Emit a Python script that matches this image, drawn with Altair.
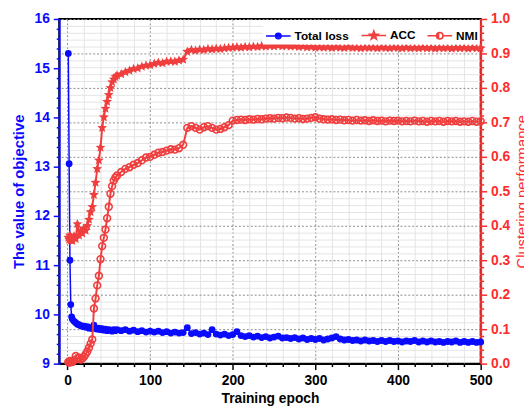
import altair as alt
import pandas as pd

# ---------------- data ----------------
epochs = [
    1, 2, 3, 4, 5, 6, 8, 10, 12, 14,
    16, 18, 20, 22, 24, 26, 28, 30, 32, 34,
    36, 38, 40, 42, 44, 46, 48, 50, 52, 54,
    56, 58, 60, 65, 70, 75, 80, 85, 90, 95,
    100, 105, 110, 115, 120, 125, 130, 135, 140, 145,
    150, 155, 160, 165, 170, 175, 180, 185, 190, 195,
    200, 205, 210, 215, 220, 225, 230, 235, 240, 245,
    250, 255, 260, 265, 270, 275, 280, 285, 290, 295,
    300, 305, 310, 315, 320, 325, 330, 335, 340, 345,
    350, 355, 360, 365, 370, 375, 380, 385, 390, 395,
    400, 405, 410, 415, 420, 425, 430, 435, 440, 445,
    450, 455, 460, 465, 470, 475, 480, 485, 490, 495,
    500,
]

total_loss = [
    15.30, 13.06, 11.10, 10.20, 9.95, 9.90, 9.86, 9.83, 9.80, 9.79,
    9.77, 9.76, 9.76, 9.74, 9.75, 9.72, 9.73, 9.71, 9.78, 9.72,
    9.70, 9.72, 9.69, 9.71, 9.68, 9.70, 9.67, 9.69, 9.68, 9.66,
    9.69, 9.67, 9.69, 9.67, 9.69, 9.66, 9.68, 9.65, 9.67, 9.64,
    9.66, 9.64, 9.66, 9.63, 9.65, 9.62, 9.64, 9.62, 9.63, 9.73,
    9.61, 9.63, 9.60, 9.62, 9.59, 9.69, 9.60, 9.58, 9.60, 9.57,
    9.59, 9.65, 9.57, 9.55, 9.57, 9.54, 9.56, 9.53, 9.55, 9.52,
    9.54, 9.56, 9.52, 9.53, 9.51, 9.53, 9.50, 9.52, 9.49, 9.51,
    9.49, 9.51, 9.48, 9.50, 9.52, 9.55, 9.50, 9.48, 9.49, 9.47,
    9.48, 9.46, 9.48, 9.46, 9.47, 9.45, 9.47, 9.45, 9.47, 9.45,
    9.46, 9.44, 9.46, 9.45, 9.47, 9.44, 9.46, 9.44, 9.46, 9.44,
    9.45, 9.43, 9.45, 9.44, 9.46, 9.43, 9.45, 9.43, 9.45, 9.43,
    9.44,
]

acc = [
    0.366, 0.360, 0.372, 0.358, 0.365, 0.356, 0.370, 0.362, 0.405, 0.372,
    0.385, 0.378, 0.392, 0.386, 0.400, 0.418, 0.440, 0.455, 0.490, 0.525,
    0.565, 0.590, 0.627, 0.684, 0.715, 0.740, 0.760, 0.780, 0.800, 0.817,
    0.825, 0.832, 0.836, 0.840, 0.846, 0.850, 0.855, 0.857, 0.862, 0.865,
    0.866, 0.870, 0.873, 0.872, 0.876, 0.877, 0.876, 0.880, 0.882, 0.905,
    0.910, 0.908, 0.911, 0.910, 0.913, 0.912, 0.914, 0.913, 0.915, 0.916,
    0.917, 0.918, 0.917, 0.919, 0.918, 0.920, 0.919, 0.921, 0.920, 0.922,
    0.921, 0.923, 0.921, 0.922, 0.920, 0.921, 0.919, 0.920, 0.918, 0.919,
    0.917, 0.918, 0.917, 0.918, 0.916, 0.918, 0.917, 0.916, 0.918, 0.916,
    0.917, 0.915, 0.917, 0.916, 0.917, 0.915, 0.917, 0.916, 0.915, 0.917,
    0.916, 0.915, 0.917, 0.915, 0.916, 0.915, 0.917, 0.915, 0.916, 0.914,
    0.916, 0.915, 0.916, 0.914, 0.916, 0.915, 0.916, 0.914, 0.916, 0.915,
    0.915,
]

nmi = [
    0.005, 0.003, 0.008, 0.004, 0.006, 0.005, 0.010, 0.022, 0.015, 0.017,
    0.012, 0.015, 0.020, 0.027, 0.035, 0.046, 0.058, 0.070, 0.160, 0.189,
    0.227, 0.255, 0.303, 0.341, 0.365, 0.389, 0.422, 0.455, 0.493, 0.515,
    0.531, 0.540, 0.546, 0.556, 0.565, 0.570, 0.577, 0.582, 0.590, 0.598,
    0.600, 0.606, 0.612, 0.614, 0.618, 0.622, 0.621, 0.625, 0.635, 0.684,
    0.689, 0.684, 0.679, 0.686, 0.689, 0.684, 0.679, 0.681, 0.686, 0.692,
    0.705, 0.707, 0.708, 0.707, 0.709, 0.708, 0.710, 0.709, 0.711, 0.712,
    0.711, 0.713, 0.712, 0.714, 0.713, 0.711, 0.712, 0.710, 0.711, 0.713,
    0.715, 0.711, 0.709, 0.708, 0.709, 0.707, 0.708, 0.706, 0.707, 0.705,
    0.707, 0.705, 0.706, 0.704, 0.706, 0.704, 0.705, 0.703, 0.705, 0.704,
    0.705, 0.703, 0.704, 0.703, 0.705, 0.703, 0.704, 0.702, 0.704, 0.703,
    0.704, 0.702, 0.704, 0.703, 0.704, 0.702, 0.703, 0.702, 0.704, 0.702,
    0.703,
]

series_names = ["Total loss", "ACC", "NMI"]

x_ticks = [0, 20, 40, 60, 80, 100, 120, 140, 160, 180, 200, 220, 240, 260,
           280, 300, 320, 340, 360, 380, 400, 420, 440, 460, 480, 500]
left_ticks = [round(9 + 0.2 * i, 1) for i in range(36)]
right_ticks = [round(0.02 * i, 2) for i in range(51)]

# ---------------- styles ----------------
BLUE = "#0A0AFF"
RED = "#F03E3E"
AXRED = "#FF2B2B"
FONT = "Liberation Sans"


def circ(r):
    return f"M{r},0A{r},{r},0,1,1,{-r},0A{r},{r},0,1,1,{r},0"


def star(R, r):
    return (f"M0,{-R}L{0.588*r:.3f},{-0.809*r:.3f}L{0.951*R:.3f},{-0.309*R:.3f}"
            f"L{0.951*r:.3f},{0.309*r:.3f}L{0.588*R:.3f},{0.809*R:.3f}L0,{r}"
            f"L{-0.588*R:.3f},{0.809*R:.3f}L{-0.951*r:.3f},{0.309*r:.3f}"
            f"L{-0.951*R:.3f},{-0.309*R:.3f}L{-0.588*r:.3f},{-0.809*r:.3f}Z")


STAR_MARK = star(1, 0.45)
path_loss = "M-1,0L1,0" + circ(0.22) + circ(0.09)
path_acc = "M-1,0L1,0" + star(0.36, 0.15) + circ(0.06)
path_nmi = ("M-1,0L-0.27,0M0.27,0L1,0" + circ(0.26)
            + "M-0.1,-0.22L-0.1,0.22M-0.18,-0.16L-0.18,0.16")

df = pd.DataFrame({"epoch": epochs, "loss": total_loss, "acc": acc, "nmi": nmi})
legend_df = pd.DataFrame({"series": series_names,
                          "epoch": [epochs[0]] * 3,
                          "value": [acc[0]] * 3})

x_scale = alt.Scale(domain=[-10, 500], nice=False, zero=False)
loss_scale = alt.Scale(domain=[9, 16], nice=False, zero=False)
perf_scale = alt.Scale(domain=[0, 1], nice=False, zero=False)

major_x = "datum.value % 100 === 0"
major_l = "abs(datum.value - round(datum.value)) < 1e-6"
major_r = "abs(datum.value * 10 - round(datum.value * 10)) < 1e-6"

x_axis = alt.Axis(
    orient="bottom", values=x_ticks, title="Training epoch", format="d",
    labelExpr=f"{major_x} ? datum.label : ''",
    tickSize={"condition": {"test": major_x, "value": 6}, "value": 3},
    tickColor="black", tickWidth=1.5,
    domainColor="black", domainWidth=2,
    labelFont=FONT, labelFontSize=14, labelFontWeight="bold", labelColor="black",
    labelFlush=False, labelPadding=4,
    titleFont=FONT, titleFontSize=14, titleFontWeight="bold", titleColor="black",
    titlePadding=4,
    grid=True,
    gridColor={"condition": {"test": major_x, "value": "#8a8a8a"}, "value": "#e4e4e4"},
    gridDash={"condition": {"test": major_x, "value": [2, 2]}, "value": []},
    gridWidth=1,
)

left_axis = alt.Axis(
    orient="left", values=left_ticks, title="The value of objective",
    labelExpr=f"{major_l} ? format(datum.value, 'd') : ''",
    tickSize={"condition": {"test": major_l, "value": 6}, "value": 3},
    tickColor=BLUE, tickWidth=1.5, domainColor=BLUE, domainWidth=2,
    labelFont=FONT, labelFontSize=14, labelFontWeight="bold", labelColor=BLUE,
    labelPadding=4,
    titleFont=FONT, titleFontSize=15, titleFontWeight="bold", titleColor=BLUE,
    titlePadding=8, grid=False,
)

right_axis = alt.Axis(
    orient="right", values=right_ticks, title="Clustering performance",
    labelExpr=f"{major_r} ? format(datum.value, '.1f') : ''",
    tickSize={"condition": {"test": major_r, "value": 6}, "value": 3},
    tickColor=AXRED, tickWidth=1.5, domainColor=AXRED, domainWidth=2,
    labelFont=FONT, labelFontSize=14, labelFontWeight="bold", labelColor=AXRED,
    labelPadding=4,
    titleFont=FONT, titleFontSize=15, titleFontWeight="normal", titleColor=AXRED,
    titleAngle=270, titlePadding=20,
    grid=True,
    gridColor={"condition": {"test": major_r, "value": "#8a8a8a"}, "value": "#e4e4e4"},
    gridDash={"condition": {"test": major_r, "value": [2, 2]}, "value": []},
    gridWidth=1,
)

base = alt.Chart(df)
X = alt.X("epoch:Q", scale=x_scale, axis=x_axis)

loss_line = base.mark_line(color=BLUE, strokeWidth=1.5).encode(
    x=X, y=alt.Y("loss:Q", scale=loss_scale, axis=left_axis))
loss_pts = base.mark_circle(color=BLUE, size=48, opacity=1).encode(
    x=X, y=alt.Y("loss:Q", scale=loss_scale, axis=None))

acc_line = base.mark_line(color=RED, strokeWidth=2).encode(
    x=X, y=alt.Y("acc:Q", scale=perf_scale, axis=right_axis))
acc_pts = base.mark_point(shape=STAR_MARK, filled=True, color=RED, size=110,
                          opacity=1).encode(
    x=X, y=alt.Y("acc:Q", scale=perf_scale, axis=None))
nmi_line = base.mark_line(color=RED, strokeWidth=2).encode(
    x=X, y=alt.Y("nmi:Q", scale=perf_scale, axis=None))
nmi_pts = base.mark_point(shape="circle", filled=False, color=RED, size=48,
                          strokeWidth=1.6, opacity=1).encode(
    x=X, y=alt.Y("nmi:Q", scale=perf_scale, axis=None))

leg = alt.Legend(
    orient="top-right", direction="horizontal", title=None,
    labelFont=FONT, labelFontSize=12, labelFontWeight="bold", labelColor="black",
    symbolSize=625, symbolStrokeWidth=1.6, symbolOpacity=1,
    fillColor="white", padding=2, offset=1, columnPadding=8, labelOffset=3,
)
legend_layer = alt.Chart(legend_df).mark_point(filled=False, opacity=0, size=5).encode(
    x=X,
    y=alt.Y("value:Q", scale=perf_scale, axis=None),
    color=alt.Color("series:N", scale=alt.Scale(domain=series_names,
                                                range=[BLUE, RED, RED]), legend=leg),
    shape=alt.Shape("series:N", scale=alt.Scale(domain=series_names,
                                                range=[path_loss, path_acc, path_nmi]),
                    legend=leg),
)

chart = alt.layer(
    loss_line, loss_pts, acc_line, acc_pts, nmi_line, nmi_pts, legend_layer
).resolve_scale(y="independent").properties(
    width=428, height=350,
    autosize=alt.AutoSizeParams(type="none"),
    padding={"left": 52, "top": 8, "right": 44, "bottom": 48},
    background="white",
).configure_view(stroke="black", strokeWidth=2)

chart.save("out.html", embed_options={"renderer": "svg", "actions": False})
